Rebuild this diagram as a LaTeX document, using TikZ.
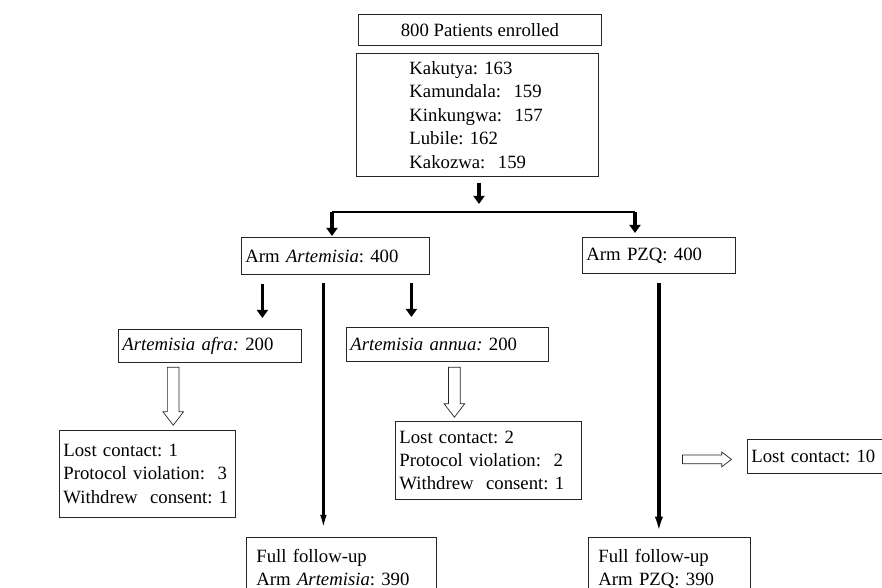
\documentclass[tikz,border=0pt]{standalone}
\usepackage{fontspec}
\setmainfont{Liberation Serif}
\frenchspacing
\usetikzlibrary{arrows.meta,shapes.arrows}

\tikzset{
  box/.style={draw=black!85, line width=0.7pt, anchor=north west, align=left,
    inner xsep=0.12cm, inner ysep=0pt},
  fullbox/.style={box, inner xsep=0.3cm, inner ysep=0.35cm},
  fat/.style={line width=3pt, -{Triangle[length=7pt,width=9.5pt]}},
  bar/.style={line width=1.6pt},
  longA/.style={line width=2.3pt, -{Latex[length=13pt,width=5.5pt]}},
  longP/.style={line width=3.2pt, -{Latex[length=14pt,width=7pt]}},
  hollow/.style={single arrow, draw=black!85, line width=0.6pt, fill=white,
    inner xsep=0pt, minimum width=0pt, single arrow tip angle=75},
  hollowdown/.style={hollow, rotate=-90, inner ysep=0.165cm,
    single arrow head extend=0.135cm},
  hollowright/.style={hollow, inner ysep=0.12cm,
    single arrow head extend=0.09cm, minimum height=1.47cm}
}

\begin{document}
\begin{tikzpicture}[x=0.03cm, y=-0.03cm, font=\fontsize{16}{20}\selectfont]
  \useasboundingbox (0,0) rectangle (882,588);
  \clip (0,0) rectangle (882,588);

  % enrolment
  \node[box, align=center, minimum width=7.29cm, minimum height=0.93cm] (enrol) at (358,14) {800 Patients enrolled};
  \node[box, text width=4.08cm, minimum width=7.26cm, minimum height=3.69cm] (sites) at (356,53)
    {Kakutya: 163\\ Kamundala:\ \ 159\\ Kinkungwa:\ \ 157\\ Lubile: 162\\ Kakozwa:\ \ 159};

  % arms
  \node[box, text width=5.4cm, minimum width=5.64cm, minimum height=1.11cm] (armA) at (241,237) {Arm \textit{Artemisia}: 400};
  \node[box, text width=4.35cm, minimum width=4.59cm, minimum height=1.08cm] (armP) at (582,237) {Arm PZQ: 400};

  \node[box, text width=5.25cm, minimum width=5.49cm, minimum height=0.99cm] (afra) at (118,329) {\textit{Artemisia afra:} 200};
  \node[box, text width=5.82cm, minimum width=6.06cm, minimum height=1.02cm] (annua) at (346,327) {\textit{Artemisia annua:} 200};

  % losses
  \node[box, text width=5.04cm, minimum width=5.28cm, minimum height=2.61cm] (lost1) at (59,430)
    {Lost contact: 1\\ Protocol violation:\ \ 3\\ Withdrew\ \ consent: 1};
  \node[box, text width=5.34cm, minimum width=5.58cm, minimum height=2.34cm] (lost2) at (395,421)
    {Lost contact: 2\\ Protocol violation:\ \ 2\\ Withdrew\ \ consent: 1};
  \node[box, text width=4.3cm, minimum width=4.54cm, minimum height=1.02cm] (lost10) at (747,439) {Lost contact: 10};

  % follow-up
  \node[fullbox, text width=5.1cm] (fullA) at (246,537) {Full follow-up\\ Arm \textit{Artemisia}: 390\\ \strut};
  \node[fullbox, text width=4.26cm] (fullP) at (588,537) {Full follow-up\\ Arm PZQ: 390\\ \strut};

  % connectors
  \coordinate (splitC) at (479,212);
  \coordinate (splitL) at (332,212);
  \coordinate (splitR) at (635,212);

  \draw[fat, shorten <=0.18cm] (sites.south -| splitC) -- ([yshift=0.24cm]splitC);
  \draw[bar] (splitL) -- (splitR);
  \draw[fat, shorten >=0.03cm] (splitL) -- (splitL |- armA.north);
  \draw[fat, shorten >=0.12cm] (splitR) -- (splitR |- armP.north);

  \draw[fat, shorten <=0.27cm, shorten >=0.33cm] ([xshift=-2.19cm]armA.south) -- ([xshift=-2.19cm]armA.south |- afra.north);
  \draw[fat, shorten <=0.24cm, shorten >=0.30cm] ([xshift=2.28cm]armA.south) -- ([xshift=2.28cm]armA.south |- annua.north);
  \draw[longA, shorten <=0.24cm, shorten >=0.21cm] ([xshift=-0.36cm]armA.south) -- ([xshift=-0.36cm]armA.south |- fullA.north);
  \draw[longP, shorten <=0.27cm, shorten >=0.12cm] (armP.south) -- (armP.south |- fullP.north);

  \node[hollowdown, minimum height=1.74cm, anchor=tail] (h1) at ([xshift=-1.1cm, yshift=-0.12cm]afra.south) {};
  \node[hollowdown, minimum height=1.5cm, anchor=tail] (h2) at ([xshift=0.21cm, yshift=-0.15cm]annua.south) {};
  \node[hollowright, anchor=tip] (h3) at ([xshift=-0.45cm, yshift=-0.09cm]lost10.west) {};
\end{tikzpicture}
\end{document}
